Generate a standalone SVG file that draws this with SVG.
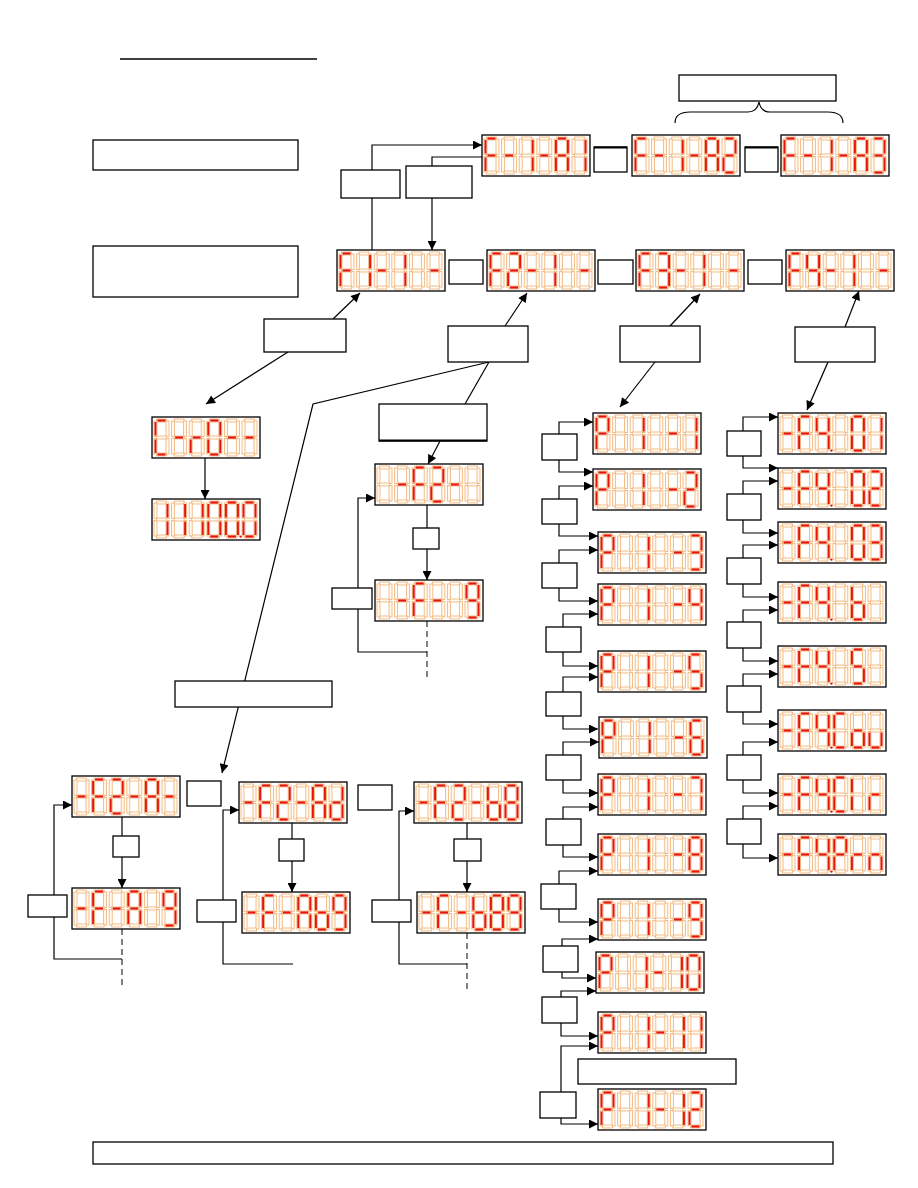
<svg xmlns="http://www.w3.org/2000/svg" xmlns:xlink="http://www.w3.org/1999/xlink" width="918" height="1188" viewBox="0 0 918 1188">
<style>
.fs{fill:#fffaf3;stroke:#f1b77c;stroke-width:0.9}
.ls{fill:#e5150d}
.fr{fill:#fff;stroke:#000;stroke-width:1.3}
.bx{fill:#fff;stroke:#000;stroke-width:1.3}
.ln{fill:none;stroke:#000;stroke-width:1.2}
.ar{fill:none;stroke:#000;stroke-width:1.2;marker-end:url(#ah)}
.ds{fill:none;stroke:#000;stroke-width:1;stroke-dasharray:6 4}
</style>
<defs>
<marker id="ah" viewBox="0 0 10 10" refX="10" refY="5" markerUnits="userSpaceOnUse" markerWidth="10" markerHeight="9" orient="auto"><path d="M0,0 L10,5 L0,10 z" fill="#000"/></marker>
<g id="f8" class="fs">
<rect x="2.5" y="0" width="10" height="3"/><rect x="12" y="2" width="3" height="15.5"/><rect x="12" y="19.5" width="3" height="15.5"/><rect x="2.5" y="34" width="10" height="3"/><rect x="0" y="19.5" width="3" height="15.5"/><rect x="0" y="2" width="3" height="15.5"/><rect x="2.5" y="17" width="10" height="3"/>
</g>
<rect id="sa" class="ls" x="3.5" y="0.4" width="8" height="2.2"/>
<rect id="sb" class="ls" x="12.5" y="3" width="2" height="13.5"/>
<rect id="sc" class="ls" x="12.5" y="20.5" width="2" height="13.5"/>
<rect id="sd" class="ls" x="3.5" y="34.4" width="8" height="2.2"/>
<rect id="se" class="ls" x="0.5" y="20.5" width="2" height="13.5"/>
<rect id="sf" class="ls" x="0.5" y="3" width="2" height="13.5"/>
<rect id="sg" class="ls" x="3.5" y="17.4" width="8" height="2.2"/>
<circle id="dp" class="ls" cx="16.3" cy="35.6" r="1.2"/>
<g id="cS"><use href="#f8"/></g>
<g id="cM"><use href="#f8"/><use href="#sg"/></g>
<g id="c0"><use href="#f8"/><use href="#sa"/><use href="#sb"/><use href="#sc"/><use href="#sd"/><use href="#se"/><use href="#sf"/></g>
<g id="c1"><use href="#f8"/><use href="#sb"/><use href="#sc"/></g>
<g id="c2"><use href="#f8"/><use href="#sa"/><use href="#sb"/><use href="#sg"/><use href="#se"/><use href="#sd"/></g>
<g id="c3"><use href="#f8"/><use href="#sa"/><use href="#sb"/><use href="#sg"/><use href="#sc"/><use href="#sd"/></g>
<g id="c4"><use href="#f8"/><use href="#sf"/><use href="#sg"/><use href="#sb"/><use href="#sc"/></g>
<g id="c5"><use href="#f8"/><use href="#sa"/><use href="#sf"/><use href="#sg"/><use href="#sc"/><use href="#sd"/></g>
<g id="c6"><use href="#f8"/><use href="#sa"/><use href="#sf"/><use href="#sg"/><use href="#se"/><use href="#sc"/><use href="#sd"/></g>
<g id="c7"><use href="#f8"/><use href="#sa"/><use href="#sb"/><use href="#sc"/></g>
<g id="c8"><use href="#f8"/><use href="#sa"/><use href="#sb"/><use href="#sc"/><use href="#sd"/><use href="#se"/><use href="#sf"/><use href="#sg"/></g>
<g id="c9"><use href="#f8"/><use href="#sa"/><use href="#sb"/><use href="#sc"/><use href="#sd"/><use href="#sf"/><use href="#sg"/></g>
<g id="cF"><use href="#f8"/><use href="#sa"/><use href="#sf"/><use href="#sg"/><use href="#se"/></g>
<g id="cA"><use href="#f8"/><use href="#sa"/><use href="#sb"/><use href="#sc"/><use href="#se"/><use href="#sf"/><use href="#sg"/></g>
<g id="cP"><use href="#f8"/><use href="#sa"/><use href="#sb"/><use href="#sf"/><use href="#sg"/><use href="#se"/></g>
<g id="cC"><use href="#f8"/><use href="#sa"/><use href="#sf"/><use href="#se"/><use href="#sd"/></g>
<g id="co"><use href="#f8"/><use href="#sg"/><use href="#sc"/><use href="#sd"/><use href="#se"/></g>
<g id="cu"><use href="#f8"/><use href="#sc"/><use href="#sd"/><use href="#se"/></g>
<g id="cr"><use href="#f8"/><use href="#se"/><use href="#sg"/></g>
<g id="cn"><use href="#f8"/><use href="#se"/><use href="#sg"/><use href="#sc"/></g>
<g id="cb"><use href="#f8"/><use href="#sf"/><use href="#se"/><use href="#sd"/><use href="#sc"/><use href="#sg"/></g>
<g id="cd"><use href="#f8"/><use href="#sb"/><use href="#sc"/><use href="#sd"/><use href="#se"/><use href="#sg"/></g>
<g id="cl"><use href="#f8"/><use href="#sf"/><use href="#se"/></g>
</defs>
<rect width="918" height="1188" fill="#fff"/>

<line id="title-underline" x1="120" y1="59" x2="317" y2="59" stroke="#000" stroke-width="1.6"/>

<g id="connectors">
<path class="ar" d="M372,170 V145 H482"/>
<path class="ln" d="M372,198 V250"/>
<path class="ln" d="M482,157 H432 V166"/>
<path class="ar" d="M432,198 V250"/>
<path class="ln" d="M675,123 Q675,112 690,112 L748,112 Q757,112 759,102 Q761,112 770,112 L828,112 Q843,112 843,123" stroke="#444" stroke-width="1.3"/>
<path class="ar" d="M333,319 L360,293"/>
<path class="ar" d="M288,352 L206,404"/>
<path class="ar" d="M205,458 V499"/>
<path class="ar" d="M505,326 L527,293"/>
<path class="ln" d="M489,362 L465,404"/>
<path class="ar" d="M489,362 L313,404 L222,773"/>
<path class="ar" d="M440,441 L428,464"/>
<path class="ln" d="M427,505 V528"/>
<path class="ar" d="M427,549 V580"/>
<path class="ar" d="M358,588 V498 H375"/>
<path class="ln" d="M358,609 V652 H427"/>
<path class="ds" d="M427,621 V680"/>
<path class="ar" d="M670,326 L700,294"/>
<path class="ar" d="M655,362 L620,407"/>
<path class="ar" d="M845,327 L859,291"/>
<path class="ar" d="M828,362 L807,410"/>
<path class="ar" d="M559,434 V422 H593"/><path class="ar" d="M559,460 V472 H593"/>
<path class="ar" d="M559,499 V486 H593"/><path class="ar" d="M559,524 V536 H598"/>
<path class="ar" d="M559,563 V550 H598"/><path class="ar" d="M559,588 V601 H598"/>
<path class="ar" d="M563,627 V614 H598"/><path class="ar" d="M563,652 V666 H598"/>
<path class="ar" d="M563,692 V677 H598"/><path class="ar" d="M563,716 V729 H598"/>
<path class="ar" d="M563,755 V742 H599"/><path class="ar" d="M563,780 V793 H598"/>
<path class="ar" d="M563,819 V807 H598"/><path class="ar" d="M563,845 V857 H598"/>
<path class="ar" d="M559,884 V871 H598"/><path class="ar" d="M559,909 V922 H598"/>
<path class="ar" d="M562,946 V939 H598"/><path class="ar" d="M562,972 V978 H596"/>
<path class="ar" d="M561,997 V991 H596"/><path class="ar" d="M561,1023 V1036 H598"/>
<path class="ar" d="M561,1092 V1046 H598"/><path class="ar" d="M561,1118 V1124 H598"/>
<path class="ar" d="M743,431 V417 H778"/><path class="ar" d="M743,456 V468 H778"/>
<path class="ar" d="M743,494 V481 H778"/><path class="ar" d="M743,520 V533 H778"/>
<path class="ar" d="M743,558 V545 H778"/><path class="ar" d="M743,584 V597 H778"/>
<path class="ar" d="M743,622 V610 H778"/><path class="ar" d="M743,648 V661 H778"/>
<path class="ar" d="M743,686 V674 H778"/><path class="ar" d="M743,712 V724 H778"/>
<path class="ar" d="M743,755 V742 H778"/><path class="ar" d="M743,780 V793 H778"/>
<path class="ar" d="M743,819 V806 H778"/><path class="ar" d="M743,844 V858 H778"/>
<path class="ln" d="M122,817 V836"/><path class="ar" d="M122,857 V888"/>
<path class="ar" d="M54,895 V805 H72"/><path class="ln" d="M54,917 V959 H122"/>
<path class="ds" d="M122,929 V988"/>
<path class="ln" d="M292,823 V839"/><path class="ar" d="M292,861 V892"/>
<path class="ar" d="M223,900 V810 H239"/><path class="ln" d="M223,922 V964 H293"/>
<path class="ln" d="M467,823 V839"/><path class="ar" d="M467,861 V892"/>
<path class="ar" d="M399,900 V811 H414"/><path class="ln" d="M399,922 V964 H467"/>
<path class="ds" d="M467,933 V990"/>
</g>

<g id="box-A"><rect class="bx" x="93" y="140" width="205" height="30"/></g>
<g id="box-B"><rect class="bx" x="93" y="246" width="205" height="51"/></g>
<g id="box-top"><rect class="bx" x="679" y="75" width="157" height="26"/></g>
<g id="box-C"><rect class="bx" x="341" y="170" width="59" height="28"/></g>
<g id="box-D"><rect class="bx" x="406" y="166" width="66" height="32"/></g>
<g id="box-t1"><rect class="bx" x="594" y="147" width="33" height="25"/><line x1="594" y1="147.5" x2="627" y2="147.5" stroke="#000" stroke-width="2"/></g>
<g id="box-t2"><rect class="bx" x="745" y="147" width="33" height="25"/><line x1="745" y1="147.5" x2="778" y2="147.5" stroke="#000" stroke-width="2"/></g>
<g id="box-r1"><rect class="bx" x="449" y="260" width="34" height="24"/></g>
<g id="box-r2"><rect class="bx" x="598" y="260" width="35" height="24"/></g>
<g id="box-r3"><rect class="bx" x="748" y="260" width="34" height="24"/></g>
<g id="box-E"><rect class="bx" x="264" y="319" width="82" height="33"/></g>
<g id="box-F"><rect class="bx" x="448" y="326" width="80" height="36"/></g>
<g id="box-3"><rect class="bx" x="620" y="326" width="80" height="36"/></g>
<g id="box-I"><rect class="bx" x="795" y="327" width="80" height="35"/></g>
<g id="box-G"><rect class="bx" x="379" y="404" width="108" height="37"/><line x1="379" y1="440.5" x2="487" y2="440.5" stroke="#000" stroke-width="2"/></g>
<g id="box-H"><rect class="bx" x="175" y="681" width="157" height="26"/></g>
<g id="box-m1"><rect class="bx" x="413" y="528" width="26" height="21"/></g>
<g id="box-m2"><rect class="bx" x="332" y="588" width="40" height="21"/></g>
<g id="box-p1"><rect class="bx" x="542" y="434" width="35" height="26"/></g>
<g id="box-p2"><rect class="bx" x="542" y="499" width="35" height="25"/></g>
<g id="box-p3"><rect class="bx" x="542" y="563" width="35" height="25"/></g>
<g id="box-p4"><rect class="bx" x="546" y="627" width="35" height="25"/></g>
<g id="box-p5"><rect class="bx" x="546" y="692" width="35" height="24"/></g>
<g id="box-p6"><rect class="bx" x="546" y="755" width="35" height="25"/></g>
<g id="box-p7"><rect class="bx" x="546" y="819" width="35" height="26"/></g>
<g id="box-p8"><rect class="bx" x="541" y="884" width="35" height="25"/></g>
<g id="box-p9"><rect class="bx" x="543" y="946" width="35" height="26"/></g>
<g id="box-p10"><rect class="bx" x="542" y="997" width="35" height="26"/></g>
<g id="box-p11"><rect class="bx" x="540" y="1092" width="36" height="26"/></g>
<g id="box-wide"><rect class="bx" x="578" y="1059" width="158" height="25"/></g>
<g id="box-q1"><rect class="bx" x="727" y="431" width="34" height="25"/></g>
<g id="box-q2"><rect class="bx" x="727" y="494" width="34" height="26"/></g>
<g id="box-q3"><rect class="bx" x="727" y="558" width="34" height="26"/></g>
<g id="box-q4"><rect class="bx" x="727" y="622" width="34" height="26"/></g>
<g id="box-q5"><rect class="bx" x="727" y="686" width="34" height="26"/></g>
<g id="box-q6"><rect class="bx" x="727" y="755" width="34" height="25"/></g>
<g id="box-q7"><rect class="bx" x="727" y="819" width="34" height="25"/></g>
<g id="box-b1"><rect class="bx" x="113" y="836" width="26" height="21"/></g>
<g id="box-b1loop"><rect class="bx" x="28" y="895" width="39" height="22"/></g>
<g id="box-b3side"><rect class="bx" x="187" y="781" width="34" height="25"/></g>
<g id="box-b3"><rect class="bx" x="279" y="839" width="25" height="22"/></g>
<g id="box-b3loop"><rect class="bx" x="197" y="900" width="39" height="22"/></g>
<g id="box-b5side"><rect class="bx" x="358" y="785" width="34" height="25"/></g>
<g id="box-b5"><rect class="bx" x="454" y="839" width="27" height="22"/></g>
<g id="box-b5loop"><rect class="bx" x="372" y="900" width="39" height="22"/></g>
<g id="box-bottom"><rect class="bx" x="93" y="1142" width="740" height="22"/></g>

<g id="T1" transform="translate(482,135)"><rect class="fr" width="108" height="41"/><use href="#cF" x="2" y="2"/><use href="#cM" x="19.6" y="2"/><use href="#c1" x="37.2" y="2"/><use href="#cM" x="54.8" y="2"/><use href="#cA" x="72.4" y="2"/><use href="#c1" x="90" y="2"/></g>
<g id="T2" transform="translate(632,135)"><rect class="fr" width="108" height="41"/><use href="#cF" x="2" y="2"/><use href="#cM" x="19.6" y="2"/><use href="#c1" x="37.2" y="2"/><use href="#cM" x="54.8" y="2"/><use href="#cA" x="72.4" y="2"/><use href="#c2" x="90" y="2"/></g>
<g id="T3" transform="translate(781,135)"><rect class="fr" width="108" height="41"/><use href="#cF" x="2" y="2"/><use href="#cM" x="19.6" y="2"/><use href="#c1" x="37.2" y="2"/><use href="#cM" x="54.8" y="2"/><use href="#cA" x="72.4" y="2"/><use href="#c3" x="90" y="2"/></g>
<g id="R1" transform="translate(337,250)"><rect class="fr" width="108" height="41"/><use href="#cF" x="2" y="2"/><use href="#c1" x="19.6" y="2"/><use href="#cM" x="37.2" y="2"/><use href="#c1" x="54.8" y="2"/><use href="#cS" x="72.4" y="2"/><use href="#cM" x="90" y="2"/></g>
<g id="R2" transform="translate(487,250)"><rect class="fr" width="108" height="41"/><use href="#cF" x="2" y="2"/><use href="#c2" x="19.6" y="2"/><use href="#cM" x="37.2" y="2"/><use href="#c1" x="54.8" y="2"/><use href="#cS" x="72.4" y="2"/><use href="#cM" x="90" y="2"/></g>
<g id="R3" transform="translate(636,250)"><rect class="fr" width="108" height="41"/><use href="#cF" x="2" y="2"/><use href="#c3" x="19.6" y="2"/><use href="#cM" x="37.2" y="2"/><use href="#c1" x="54.8" y="2"/><use href="#cS" x="72.4" y="2"/><use href="#cM" x="90" y="2"/></g>
<g id="R4" transform="translate(786,250)"><rect class="fr" width="108" height="41"/><use href="#cF" x="2" y="2"/><use href="#c4" x="19.6" y="2"/><use href="#cM" x="37.2" y="2"/><use href="#c1" x="54.8" y="2"/><use href="#cS" x="72.4" y="2"/><use href="#cM" x="90" y="2"/></g>
<g id="L1" transform="translate(152,417)"><rect class="fr" width="108" height="41"/><use href="#cC" x="2" y="2"/><use href="#cM" x="19.6" y="2"/><use href="#cr" x="37.2" y="2"/><use href="#c0" x="54.8" y="2"/><use href="#cM" x="72.4" y="2"/><use href="#cM" x="90" y="2"/></g>
<g id="L2" transform="translate(152,499)"><rect class="fr" width="108" height="41"/><use href="#c1" x="2" y="2"/><use href="#c1" x="19.6" y="2"/><use href="#c1" x="37.2" y="2"/><use href="#c0" x="54.8" y="2"/><use href="#c0" x="72.4" y="2"/><use href="#dp" x="72.4" y="2"/><use href="#c0" x="90" y="2"/></g>
<g id="M1" transform="translate(375,464)"><rect class="fr" width="108" height="41"/><use href="#cS" x="2" y="2"/><use href="#cM" x="19.6" y="2"/><use href="#cF" x="37.2" y="2"/><use href="#c2" x="54.8" y="2"/><use href="#cM" x="72.4" y="2"/><use href="#cS" x="90" y="2"/></g>
<g id="M2" transform="translate(375,580)"><rect class="fr" width="108" height="41"/><use href="#cS" x="2" y="2"/><use href="#cM" x="19.6" y="2"/><use href="#cF" x="37.2" y="2"/><use href="#cM" x="54.8" y="2"/><use href="#cS" x="72.4" y="2"/><use href="#c9" x="90" y="2"/></g>
<g id="P1" transform="translate(593,413)"><rect class="fr" width="108" height="41"/><use href="#cP" x="2" y="2"/><use href="#cS" x="19.6" y="2"/><use href="#c1" x="37.2" y="2"/><use href="#cS" x="54.8" y="2"/><use href="#cM" x="72.4" y="2"/><use href="#c1" x="90" y="2"/></g>
<g id="P2" transform="translate(593,469)"><rect class="fr" width="108" height="41"/><use href="#cP" x="2" y="2"/><use href="#cS" x="19.6" y="2"/><use href="#c1" x="37.2" y="2"/><use href="#cS" x="54.8" y="2"/><use href="#cM" x="72.4" y="2"/><use href="#c2" x="90" y="2"/></g>
<g id="P3" transform="translate(598,532)"><rect class="fr" width="108" height="41"/><use href="#cP" x="2" y="2"/><use href="#cS" x="19.6" y="2"/><use href="#c1" x="37.2" y="2"/><use href="#cS" x="54.8" y="2"/><use href="#cM" x="72.4" y="2"/><use href="#c3" x="90" y="2"/></g>
<g id="P4" transform="translate(598,584)"><rect class="fr" width="108" height="41"/><use href="#cP" x="2" y="2"/><use href="#cS" x="19.6" y="2"/><use href="#c1" x="37.2" y="2"/><use href="#cS" x="54.8" y="2"/><use href="#cM" x="72.4" y="2"/><use href="#c4" x="90" y="2"/></g>
<g id="P5" transform="translate(598,651)"><rect class="fr" width="108" height="41"/><use href="#cP" x="2" y="2"/><use href="#cS" x="19.6" y="2"/><use href="#c1" x="37.2" y="2"/><use href="#cS" x="54.8" y="2"/><use href="#cM" x="72.4" y="2"/><use href="#c5" x="90" y="2"/></g>
<g id="P6" transform="translate(599,717)"><rect class="fr" width="108" height="41"/><use href="#cP" x="2" y="2"/><use href="#cS" x="19.6" y="2"/><use href="#c1" x="37.2" y="2"/><use href="#cS" x="54.8" y="2"/><use href="#cM" x="72.4" y="2"/><use href="#c6" x="90" y="2"/></g>
<g id="P7" transform="translate(598,774)"><rect class="fr" width="108" height="41"/><use href="#cP" x="2" y="2"/><use href="#cS" x="19.6" y="2"/><use href="#c1" x="37.2" y="2"/><use href="#cS" x="54.8" y="2"/><use href="#cM" x="72.4" y="2"/><use href="#c7" x="90" y="2"/></g>
<g id="P8" transform="translate(598,834)"><rect class="fr" width="108" height="41"/><use href="#cP" x="2" y="2"/><use href="#cS" x="19.6" y="2"/><use href="#c1" x="37.2" y="2"/><use href="#cS" x="54.8" y="2"/><use href="#cM" x="72.4" y="2"/><use href="#c8" x="90" y="2"/></g>
<g id="P9" transform="translate(598,899)"><rect class="fr" width="108" height="41"/><use href="#cP" x="2" y="2"/><use href="#cS" x="19.6" y="2"/><use href="#c1" x="37.2" y="2"/><use href="#cS" x="54.8" y="2"/><use href="#cM" x="72.4" y="2"/><use href="#c9" x="90" y="2"/></g>
<g id="P10" transform="translate(596,952)"><rect class="fr" width="108" height="41"/><use href="#cP" x="2" y="2"/><use href="#cS" x="19.6" y="2"/><use href="#c1" x="37.2" y="2"/><use href="#cM" x="54.8" y="2"/><use href="#c1" x="72.4" y="2"/><use href="#c0" x="90" y="2"/></g>
<g id="P11" transform="translate(598,1012)"><rect class="fr" width="108" height="41"/><use href="#cP" x="2" y="2"/><use href="#cS" x="19.6" y="2"/><use href="#c1" x="37.2" y="2"/><use href="#cM" x="54.8" y="2"/><use href="#c1" x="72.4" y="2"/><use href="#c1" x="90" y="2"/></g>
<g id="P12" transform="translate(598,1089)"><rect class="fr" width="108" height="41"/><use href="#cP" x="2" y="2"/><use href="#cS" x="19.6" y="2"/><use href="#c1" x="37.2" y="2"/><use href="#cM" x="54.8" y="2"/><use href="#c1" x="72.4" y="2"/><use href="#c2" x="90" y="2"/></g>
<g id="Q1" transform="translate(778,413)"><rect class="fr" width="108" height="41"/><use href="#cM" x="2" y="2"/><use href="#cF" x="19.6" y="2"/><use href="#c4" x="37.2" y="2"/><use href="#dp" x="37.2" y="2"/><use href="#cS" x="54.8" y="2"/><use href="#c0" x="72.4" y="2"/><use href="#c1" x="90" y="2"/></g>
<g id="Q2" transform="translate(778,468)"><rect class="fr" width="108" height="41"/><use href="#cM" x="2" y="2"/><use href="#cF" x="19.6" y="2"/><use href="#c4" x="37.2" y="2"/><use href="#dp" x="37.2" y="2"/><use href="#cS" x="54.8" y="2"/><use href="#c0" x="72.4" y="2"/><use href="#c2" x="90" y="2"/></g>
<g id="Q3" transform="translate(778,522)"><rect class="fr" width="108" height="41"/><use href="#cM" x="2" y="2"/><use href="#cF" x="19.6" y="2"/><use href="#c4" x="37.2" y="2"/><use href="#dp" x="37.2" y="2"/><use href="#cS" x="54.8" y="2"/><use href="#c0" x="72.4" y="2"/><use href="#c3" x="90" y="2"/></g>
<g id="Q4" transform="translate(778,582)"><rect class="fr" width="108" height="41"/><use href="#cM" x="2" y="2"/><use href="#cF" x="19.6" y="2"/><use href="#c4" x="37.2" y="2"/><use href="#dp" x="37.2" y="2"/><use href="#cS" x="54.8" y="2"/><use href="#cb" x="72.4" y="2"/><use href="#cS" x="90" y="2"/></g>
<g id="Q5" transform="translate(778,646)"><rect class="fr" width="108" height="41"/><use href="#cM" x="2" y="2"/><use href="#cF" x="19.6" y="2"/><use href="#c4" x="37.2" y="2"/><use href="#dp" x="37.2" y="2"/><use href="#cS" x="54.8" y="2"/><use href="#c5" x="72.4" y="2"/><use href="#cS" x="90" y="2"/></g>
<g id="Q6" transform="translate(778,710)"><rect class="fr" width="108" height="41"/><use href="#cM" x="2" y="2"/><use href="#cF" x="19.6" y="2"/><use href="#c4" x="37.2" y="2"/><use href="#dp" x="37.2" y="2"/><use href="#cC" x="54.8" y="2"/><use href="#co" x="72.4" y="2"/><use href="#cu" x="90" y="2"/></g>
<g id="Q7" transform="translate(778,774)"><rect class="fr" width="108" height="41"/><use href="#cM" x="2" y="2"/><use href="#cF" x="19.6" y="2"/><use href="#c4" x="37.2" y="2"/><use href="#dp" x="37.2" y="2"/><use href="#cC" x="54.8" y="2"/><use href="#cl" x="72.4" y="2"/><use href="#cr" x="90" y="2"/></g>
<g id="Q8" transform="translate(778,834)"><rect class="fr" width="108" height="41"/><use href="#cM" x="2" y="2"/><use href="#cF" x="19.6" y="2"/><use href="#c4" x="37.2" y="2"/><use href="#dp" x="37.2" y="2"/><use href="#cP" x="54.8" y="2"/><use href="#cr" x="72.4" y="2"/><use href="#cn" x="90" y="2"/></g>
<g id="B1" transform="translate(72,776)"><rect class="fr" width="108" height="41"/><use href="#cM" x="2" y="2"/><use href="#cF" x="19.6" y="2"/><use href="#c2" x="37.2" y="2"/><use href="#cM" x="54.8" y="2"/><use href="#cA" x="72.4" y="2"/><use href="#cM" x="90" y="2"/></g>
<g id="B2" transform="translate(72,888)"><rect class="fr" width="108" height="41"/><use href="#cM" x="2" y="2"/><use href="#cF" x="19.6" y="2"/><use href="#cM" x="37.2" y="2"/><use href="#cA" x="54.8" y="2"/><use href="#cS" x="72.4" y="2"/><use href="#c9" x="90" y="2"/></g>
<g id="B3" transform="translate(239,782)"><rect class="fr" width="108" height="41"/><use href="#cM" x="2" y="2"/><use href="#cF" x="19.6" y="2"/><use href="#c2" x="37.2" y="2"/><use href="#cM" x="54.8" y="2"/><use href="#cA" x="72.4" y="2"/><use href="#cd" x="90" y="2"/></g>
<g id="B4" transform="translate(242,892)"><rect class="fr" width="108" height="41"/><use href="#cM" x="2" y="2"/><use href="#cF" x="19.6" y="2"/><use href="#cM" x="37.2" y="2"/><use href="#cA" x="54.8" y="2"/><use href="#cb" x="72.4" y="2"/><use href="#c9" x="90" y="2"/></g>
<g id="B5" transform="translate(414,782)"><rect class="fr" width="108" height="41"/><use href="#cM" x="2" y="2"/><use href="#cF" x="19.6" y="2"/><use href="#c2" x="37.2" y="2"/><use href="#cM" x="54.8" y="2"/><use href="#cb" x="72.4" y="2"/><use href="#c8" x="90" y="2"/></g>
<g id="B6" transform="translate(417,892)"><rect class="fr" width="108" height="41"/><use href="#cM" x="2" y="2"/><use href="#cF" x="19.6" y="2"/><use href="#cM" x="37.2" y="2"/><use href="#cb" x="54.8" y="2"/><use href="#c8" x="72.4" y="2"/><use href="#c9" x="90" y="2"/></g>
</svg>
